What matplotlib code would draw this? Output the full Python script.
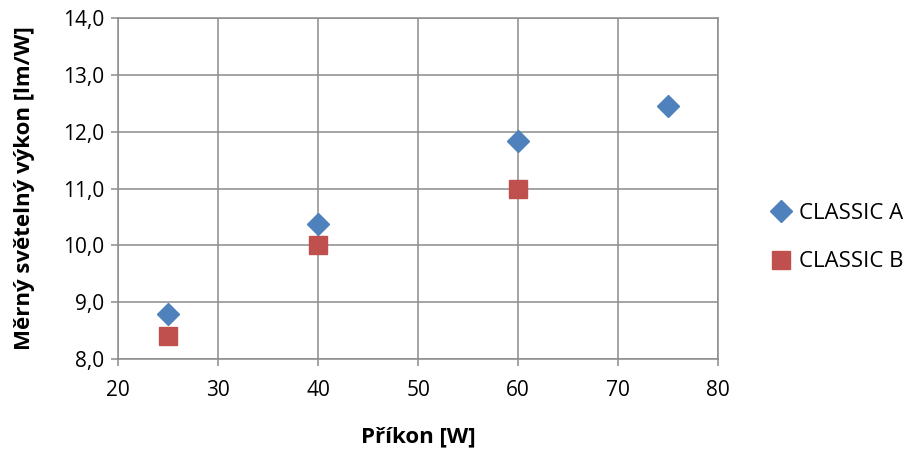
import matplotlib
matplotlib.use("Agg")
import matplotlib.pyplot as plt
from matplotlib.ticker import FuncFormatter, MultipleLocator

plt.rcParams['font.family'] = ['Open Sans', 'DejaVu Sans']

# data
x_a = [25, 40, 60, 75]
y_a = [8.80, 10.38, 11.84, 12.46]
x_b = [25, 40, 60]
y_b = [8.40, 10.00, 11.00]

fig = plt.figure(figsize=(9.09, 4.5), dpi=100)
ax = fig.add_axes([0.130, 0.202, 0.660, 0.758])

ax.plot(x_a, y_a, linestyle='none', marker='D', markersize=11,
        color='#4F81BD', label='CLASSIC A', zorder=3)
ax.plot(x_b, y_b, linestyle='none', marker='s', markersize=13,
        color='#C0504D', label='CLASSIC B', zorder=3)

ax.set_xlim(20, 80)
ax.set_ylim(8, 14)
ax.xaxis.set_major_locator(MultipleLocator(10))
ax.yaxis.set_major_locator(MultipleLocator(1))
ax.yaxis.set_major_formatter(FuncFormatter(lambda v, p: f"{v:.1f}".replace('.', ',')))

ax.grid(True, color='#8c8c8c', linewidth=1.1)
ax.set_axisbelow(True)
for s in ax.spines.values():
    s.set_color('#8c8c8c')
    s.set_linewidth(1.1)
ax.tick_params(direction='out', length=5, width=1.1, color='#8c8c8c',
               labelsize=15, pad=5)
ax.tick_params(axis='x', pad=10)

ax.set_xlabel('Příkon [W]', fontsize=16, fontweight='bold', labelpad=18)
ax.set_ylabel('Měrný světelný výkon [lm/W]', fontsize=16, fontweight='bold', labelpad=20)

ax.legend(loc='center left', bbox_to_anchor=(0.847, 0.472),
          bbox_transform=fig.transFigure, frameon=False,
          fontsize=16, handlelength=1.0, handletextpad=0.3, labelspacing=1.25,
          borderaxespad=0, borderpad=0)

fig.savefig('out.png', dpi=100)
